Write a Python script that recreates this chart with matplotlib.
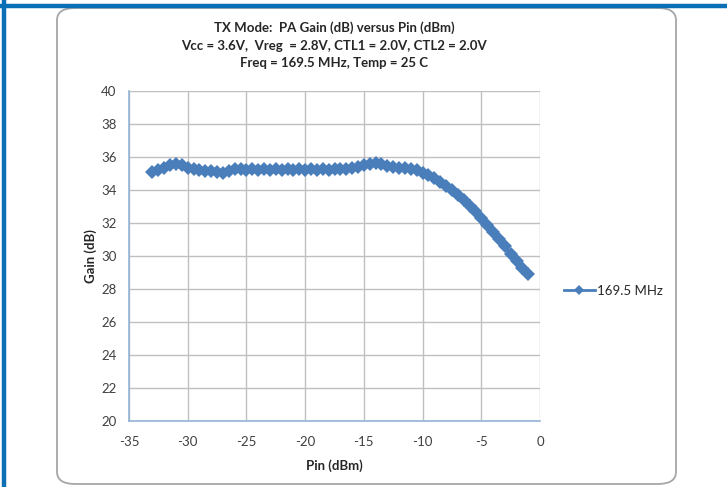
import matplotlib
matplotlib.use("Agg")
import matplotlib.pyplot as plt
from matplotlib.patches import FancyBboxPatch
from matplotlib.lines import Line2D

# Pin (dBm) values, 0.5 dB steps
pin = [-33.0, -32.5, -32.0, -31.5, -31.0, -30.5, -30.0, -29.5, -29.0, -28.5,
       -28.0, -27.5, -27.0, -26.5, -26.0, -25.5, -25.0, -24.5, -24.0, -23.5,
       -23.0, -22.5, -22.0, -21.5, -21.0, -20.5, -20.0, -19.5, -19.0, -18.5,
       -18.0, -17.5, -17.0, -16.5, -16.0, -15.5, -15.0, -14.5, -14.0, -13.5,
       -13.0, -12.5, -12.0, -11.5, -11.0, -10.5, -10.0, -9.5, -9.0, -8.5,
       -8.0, -7.5, -7.0, -6.5, -6.0, -5.5, -5.0, -4.5, -4.0, -3.5,
       -3.0, -2.5, -2.0, -1.5, -1.0]
gain = [35.10, 35.20, 35.35, 35.50, 35.55, 35.50, 35.35, 35.25, 35.20, 35.15,
        35.15, 35.10, 35.05, 35.15, 35.30, 35.25, 35.20, 35.25, 35.22, 35.25,
        35.22, 35.25, 35.22, 35.25, 35.22, 35.25, 35.22, 35.25, 35.22, 35.25,
        35.22, 35.25, 35.25, 35.28, 35.32, 35.42, 35.52, 35.60, 35.65, 35.55,
        35.45, 35.40, 35.35, 35.35, 35.30, 35.20, 35.05, 34.90, 34.70, 34.50,
        34.25, 34.00, 33.70, 33.40, 33.05, 32.70, 32.30, 31.90, 31.45, 31.00,
        30.60, 30.15, 29.70, 29.30, 28.90]

series_name = "169.5 MHz"
title_lines = ["TX Mode:  PA Gain (dB) versus Pin (dBm)",
               "Vcc = 3.6V,  Vreg  = 2.8V, CTL1 = 2.0V, CTL2 = 2.0V",
               "Freq = 169.5 MHz, Temp = 25 C"]
x_ticks = [-35, -30, -25, -20, -15, -10, -5, 0]
y_ticks = [20, 22, 24, 26, 28, 30, 32, 34, 36, 38, 40]

plt.rcParams['font.family'] = ['Lato', 'DejaVu Sans']
plt.rcParams['axes.unicode_minus'] = False
blue = '#4A7EBB'

fig = plt.figure(figsize=(7.27, 4.87), dpi=100)
fig.patch.set_facecolor('white')

# outer frame: blue lines on the left and top
fig.add_artist(Line2D([4 / 727, 4 / 727], [0, 1], color='#0B6FB5', lw=3.2,
                      transform=fig.transFigure))
fig.add_artist(Line2D([0, 1], [1 - 5.5 / 487, 1 - 5.5 / 487], color='#0B6FB5',
                      lw=3.2, transform=fig.transFigure))
# rounded chart box
box = FancyBboxPatch((57 / 727, 3 / 487), (676 - 57) / 727, (479 - 3) / 487,
                     boxstyle="round,pad=0,rounding_size=0.025",
                     transform=fig.transFigure, facecolor='white',
                     edgecolor='#A6A6A6', lw=1.3, zorder=0)
fig.add_artist(box)

ax = fig.add_axes([129 / 727, 1 - 421 / 487, 411 / 727, 330 / 487])
ax.set_facecolor('white')
ax.plot(pin, gain, color=blue, lw=3, marker='D', markersize=7,
        markeredgewidth=0, label=series_name, zorder=3)

ax.set_xlim(-35, 0)
ax.set_ylim(20, 40)
ax.set_xticks(x_ticks)
ax.set_yticks(y_ticks)
ax.grid(True, color='#C0C0C0', lw=1)
ax.set_axisbelow(True)
ax.tick_params(axis='y', length=0, labelsize=9.5, colors='#404040', pad=9)
ax.tick_params(axis='x', length=0, labelsize=9.5, colors='#404040', pad=11)
for side in ['top', 'right']:
    ax.spines[side].set_visible(False)
for side in ['left', 'bottom']:
    ax.spines[side].set_color('#95B3D7')
    ax.spines[side].set_linewidth(1.2)

ax.set_xlabel("Pin (dBm)", fontsize=9.5, fontweight='bold', labelpad=8,
              color='#262626')
ax.set_ylabel("Gain (dB)", fontsize=9.5, fontweight='bold', labelpad=3,
              color='#262626')

for i, line in enumerate(title_lines):
    fig.text(334 / 727, 1 - (28 + 17.5 * i) / 487, line, ha='center',
             va='center', fontsize=9.5, fontweight='bold', color='#262626')

leg = ax.legend(loc='center left', bbox_to_anchor=(1.03, 0.395), frameon=False,
                fontsize=9.5, handlelength=2.3, handletextpad=0.15,
                markerscale=0.7)
for t in leg.get_texts():
    t.set_color('#262626')
for h in leg.get_lines():
    h.set_linewidth(2)

fig.savefig("out.png", dpi=100)
